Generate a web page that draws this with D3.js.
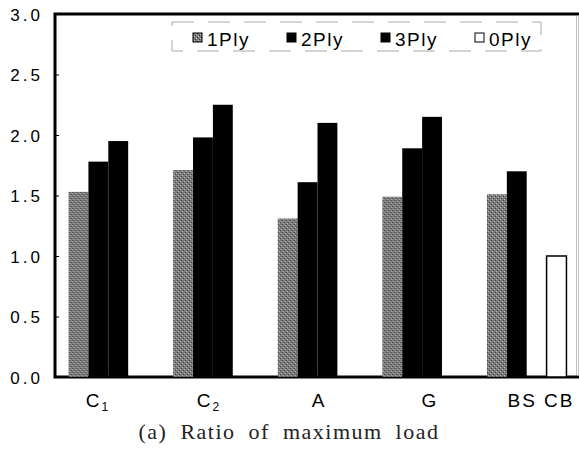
<!DOCTYPE html>
<html>
<head>
<meta charset="utf-8">
<script src="https://cdn.jsdelivr.net/npm/d3@7"></script>
<style>
  html, body { margin: 0; padding: 0; background: #fff; }
  svg { display: block; }
</style>
</head>
<body>
<svg id="chart" width="579" height="459" viewBox="0 0 579 459"></svg>
<script>
// ---- data ----
const categories = ["C1", "C2", "A", "G", "BS"];
const seriesNames = ["1Ply", "2Ply", "3Ply", "0Ply"];
const ply1 = [1.53, 1.71, 1.31, 1.49, 1.51];
const ply2 = [1.78, 1.98, 1.61, 1.89, 1.70];
const ply3 = [1.95, 2.25, 2.10, 2.15, null];
const ply0 = [null, null, null, null, 1.00];
const yTicks = [0, 0.5, 1.0, 1.5, 2.0, 2.5, 3.0];
const xLabels = [["C", "1"], ["C", "2"], ["A", ""], ["G", ""], ["BS CB", ""]];
const chartTitle = "(a) Ratio of maximum load";

const seriesValues = { "1Ply": ply1, "2Ply": ply2, "3Ply": ply3, "0Ply": ply0 };

// ---- layout ----
const svg = d3.select("#chart");
const plot = { left: 55, right: 578, top: 14, bottom: 377 };

const defs = svg.append("defs");
const pat = defs.append("pattern").attr("id", "stipple")
  .attr("patternUnits", "userSpaceOnUse").attr("width", 4).attr("height", 4);
pat.append("rect").attr("width", 4).attr("height", 4).attr("fill", "#7c7c7c");
pat.append("rect").attr("x", 0).attr("y", 0).attr("width", 1).attr("height", 1).attr("fill", "#3a3a3a");
pat.append("rect").attr("x", 2).attr("y", 2).attr("width", 1).attr("height", 1).attr("fill", "#3a3a3a");
pat.append("rect").attr("x", 1).attr("y", 3).attr("width", 1).attr("height", 1).attr("fill", "#bdbdbd");
pat.append("rect").attr("x", 3).attr("y", 1).attr("width", 1).attr("height", 1).attr("fill", "#bdbdbd");

const fills = { "1Ply": "url(#stipple)", "2Ply": "#000", "3Ply": "#000", "0Ply": "#fff" };

const y = d3.scaleLinear().domain([0, 3]).range([plot.bottom, plot.top]);
const x0 = d3.scaleBand().domain(categories).range([plot.left, plot.right])
  .paddingInner(0.24).paddingOuter(0.12).align(0.54);
const x1 = d3.scaleBand().domain(seriesNames).range([0, x0.bandwidth()]);

// label positions (separate point scale, as in the original)
const xl = d3.scalePoint().domain(d3.range(xLabels.length)).range([97, 541]);

// ---- plot frame ----
svg.append("rect")
  .attr("class", "plot-frame")
  .attr("x", plot.left).attr("y", plot.top)
  .attr("width", plot.right - plot.left).attr("height", plot.bottom - plot.top)
  .attr("fill", "none").attr("stroke", "#000").attr("stroke-width", 3);

// ---- bars ----
const groups = svg.append("g").selectAll("g").data(categories).join("g")
  .attr("transform", d => `translate(${x0(d)},0)`);

groups.selectAll("rect")
  .data((c, ci) => seriesNames.map(s => ({ s, v: seriesValues[s][ci] })).filter(d => d.v != null))
  .join("rect")
  .attr("x", d => x1(d.s))
  .attr("y", d => y(d.v))
  .attr("width", x1.bandwidth())
  .attr("height", d => y(0) - y(d.v))
  .attr("fill", d => fills[d.s])
  .attr("stroke", d => d.s === "0Ply" ? "#000" : "none")
  .attr("stroke-width", 1.5);

// right side of the frame is faint in the original
svg.append("rect")
  .attr("x", plot.right - 1.5).attr("y", plot.top + 1.5)
  .attr("width", 3).attr("height", plot.bottom - plot.top - 3)
  .attr("fill", "#fff").attr("stroke", "none");
svg.append("rect")
  .attr("x", plot.right).attr("y", plot.top + 1.5)
  .attr("width", 1).attr("height", plot.bottom - plot.top - 3)
  .attr("fill", "#c4c4c4").attr("stroke", "none");

// ---- y axis ----
const yAxis = svg.append("g").attr("transform", `translate(${plot.left},0)`)
  .call(d3.axisLeft(y).tickValues(yTicks).tickFormat(d3.format(".1f")).tickSize(-4).tickPadding(12));
yAxis.select(".domain").remove();
yAxis.selectAll(".tick line").attr("stroke", "#000").attr("stroke-width", 1);
yAxis.selectAll(".tick text")
  .attr("dy", "0.36em")
  .style("font-family", "'Liberation Sans', Arial, sans-serif")
  .style("font-size", "17px")
  .style("letter-spacing", "3px")
  .attr("fill", "#000");

// ---- x labels ----
const xt = svg.append("g").selectAll("text").data(xLabels).join("text")
  .attr("x", (d, i) => xl(i))
  .attr("y", 407)
  .attr("text-anchor", "middle")
  .style("font-family", "'Liberation Sans', Arial, sans-serif")
  .style("font-size", "19px")
  .style("letter-spacing", "2px")
  .attr("fill", "#000");
xt.append("tspan").text(d => d[0]);
xt.filter(d => d[1]).append("tspan").text(d => d[1])
  .attr("dy", 4).attr("dx", 0).style("font-size", "12px").style("letter-spacing", "0px");

// ---- legend ----
const lg = { x: 172, y: 22, w: 369, h: 29 };
svg.append("rect").attr("x", lg.x).attr("y", lg.y).attr("width", lg.w).attr("height", lg.h)
  .attr("fill", "#fff").attr("stroke", "#aaa").attr("stroke-width", 1)
  .attr("stroke-dasharray", "22,14");
const items = svg.append("g").selectAll("g").data(seriesNames).join("g")
  .attr("transform", (d, i) => `translate(${lg.x + 21 + i * 94},${lg.y + 11})`);
items.append("rect").attr("width", 9).attr("height", 9)
  .attr("fill", d => fills[d]).attr("stroke", "#000").attr("stroke-width", 1);
items.append("text").attr("x", 14).attr("y", 13).text(d => d)
  .style("font-family", "'Liberation Sans', Arial, sans-serif")
  .style("font-size", "19px")
  .style("letter-spacing", "1.5px")
  .attr("fill", "#000");

// ---- title ----
svg.append("text").attr("x", 289).attr("y", 439).attr("text-anchor", "middle")
  .text(chartTitle)
  .style("font-family", "'Liberation Serif', 'Times New Roman', serif")
  .style("font-size", "22px")
  .style("letter-spacing", "1.5px")
  .style("word-spacing", "6px")
  .attr("fill", "#222");
</script>
</body>
</html>
